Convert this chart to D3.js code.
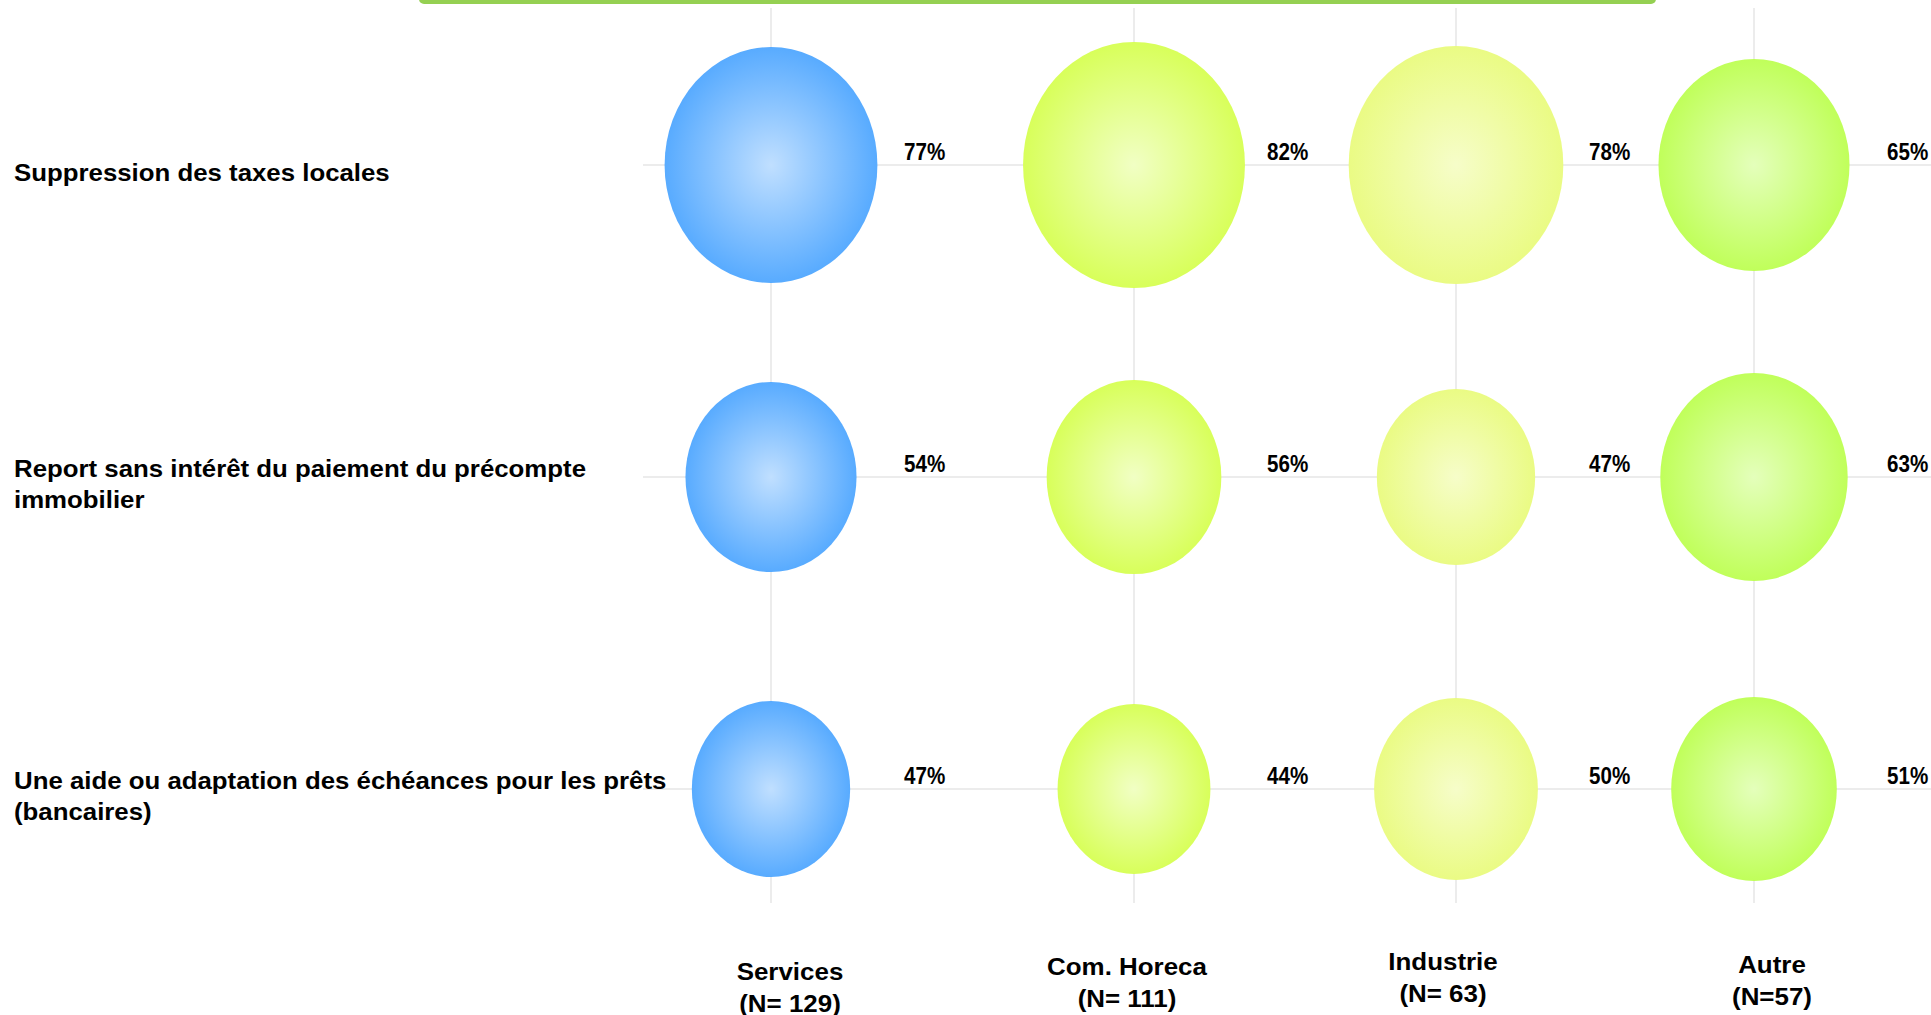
<!DOCTYPE html>
<html>
    <head>
        <meta charset="utf-8">
        <style>
          body { margin: 0; background: #fff; }
          text { font-family: "Liberation Sans", Arial, sans-serif; font-weight: bold; fill: #000; }
        </style>
    </head>
    <body>
        <svg width="1931" height="1015"></svg>
        <script src="https://d3js.org/d3.v7.min.js"></script>
        <script>
          // data
          var itemLines = [
            ["Suppression des taxes locales"],
            ["Report sans intérêt du paiement du précompte", "immobilier"],
            ["Une aide ou adaptation des échéances pour les prêts", "(bancaires)"]
          ];
          var items = itemLines.map(function(l) { return l.join(" "); });
          var groups = ["Services", "Com. Horeca", "Industrie", "Autre"];
          var groupN = ["(N= 129)", "(N= 111)", "(N= 63)", "(N=57)"];
          var services  = [77, 54, 47];
          var horeca    = [82, 56, 44];
          var industrie = [78, 47, 50];
          var autre     = [65, 63, 51];
          var values = [services, horeca, industrie, autre];

          // layout
          var colX = [771, 1134, 1456, 1754];
          var labelNudge = [[19, 6], [-7, 1], [-13, -4], [18, -1]];
          var gradColors = [
            ["#c0dfff", "#58abff"],
            ["#f1ffc4", "#d8ff5a"],
            ["#f6fdc9", "#eafb84"],
            ["#e4ffbb", "#c0ff5a"]
          ];

          var svg = d3.select("svg");

          var x = d3.scaleOrdinal().domain(groups).range(colX);
          var y = d3.scalePoint().domain(items).range([165, 789]);
          var rx = d3.scaleLinear().domain([0, 100]).range([36.5, 127.3]);
          var ry = d3.scaleLinear().domain([0, 100]).range([41, 141]);

          // squeeze/stretch text horizontally
          function stretch(sel, k) {
            sel.each(function() {
              var len = this.getComputedTextLength();
              d3.select(this).attr("textLength", len * k).attr("lengthAdjust", "spacingAndGlyphs");
            });
          }

          // top green bar
          svg.append("rect")
            .attr("x", 419).attr("y", -10)
            .attr("width", 1237).attr("height", 14)
            .attr("rx", 5)
            .attr("fill", "#95d052");

          // gradients
          var defs = svg.append("defs");
          groups.forEach(function(g, i) {
            var grad = defs.append("radialGradient")
              .attr("id", "grad" + i)
              .attr("cx", "50%").attr("cy", "50%").attr("r", "50%");
            grad.append("stop").attr("offset", "0%").attr("stop-color", gradColors[i][0]);
            grad.append("stop").attr("offset", "100%").attr("stop-color", gradColors[i][1]);
          });

          // grid lines
          svg.append("g").selectAll("line")
            .data(groups).enter().append("line")
            .attr("x1", function(d) { return x(d); })
            .attr("x2", function(d) { return x(d); })
            .attr("y1", 8).attr("y2", 903)
            .attr("stroke", "#e6e6e6").attr("stroke-width", 1.5);

          svg.append("g").selectAll("line")
            .data(items).enter().append("line")
            .attr("x1", 643).attr("x2", 1931)
            .attr("y1", function(d) { return y(d); })
            .attr("y2", function(d) { return y(d); })
            .attr("stroke", "#e6e6e6").attr("stroke-width", 1.5);

          // bubbles
          var cells = [];
          groups.forEach(function(g, i) {
            items.forEach(function(it, j) {
              cells.push({group: g, gi: i, item: it, value: values[i][j]});
            });
          });

          svg.append("g").selectAll("ellipse")
            .data(cells).enter().append("ellipse")
            .attr("cx", function(d) { return x(d.group); })
            .attr("cy", function(d) { return y(d.item); })
            .attr("rx", function(d) { return rx(d.value); })
            .attr("ry", function(d) { return ry(d.value); })
            .attr("fill", function(d) { return "url(#grad" + d.gi + ")"; });

          // value labels
          svg.append("g").selectAll("text")
            .data(cells).enter().append("text")
            .attr("x", function(d) { return x(d.group) + 133; })
            .attr("y", function(d) { return y(d.item) - 5; })
            .style("font-size", "24.5px")
            .text(function(d) { return d.value + "%"; })
            .call(stretch, 0.84);

          // row labels
          itemLines.forEach(function(lines, j) {
            var base = y(items[j]) + 15.5 - (lines.length - 1) * 31 / 2;
            lines.forEach(function(line, k) {
              svg.append("text")
                .attr("x", 14)
                .attr("y", base + k * 31)
                .style("font-size", "24px")
                .text(line)
                .call(stretch, 1.075);
            });
          });

          // column labels
          groups.forEach(function(g, i) {
            var cx = x(g) + labelNudge[i][0];
            var by = 974 + labelNudge[i][1];
            [g, groupN[i]].forEach(function(t, k) {
              svg.append("text")
                .attr("x", cx)
                .attr("y", by + k * 32)
                .attr("text-anchor", "middle")
                .style("font-size", "24px")
                .text(t)
                .call(stretch, 1.08);
            });
          });
        </script>
    </body>
</html>
